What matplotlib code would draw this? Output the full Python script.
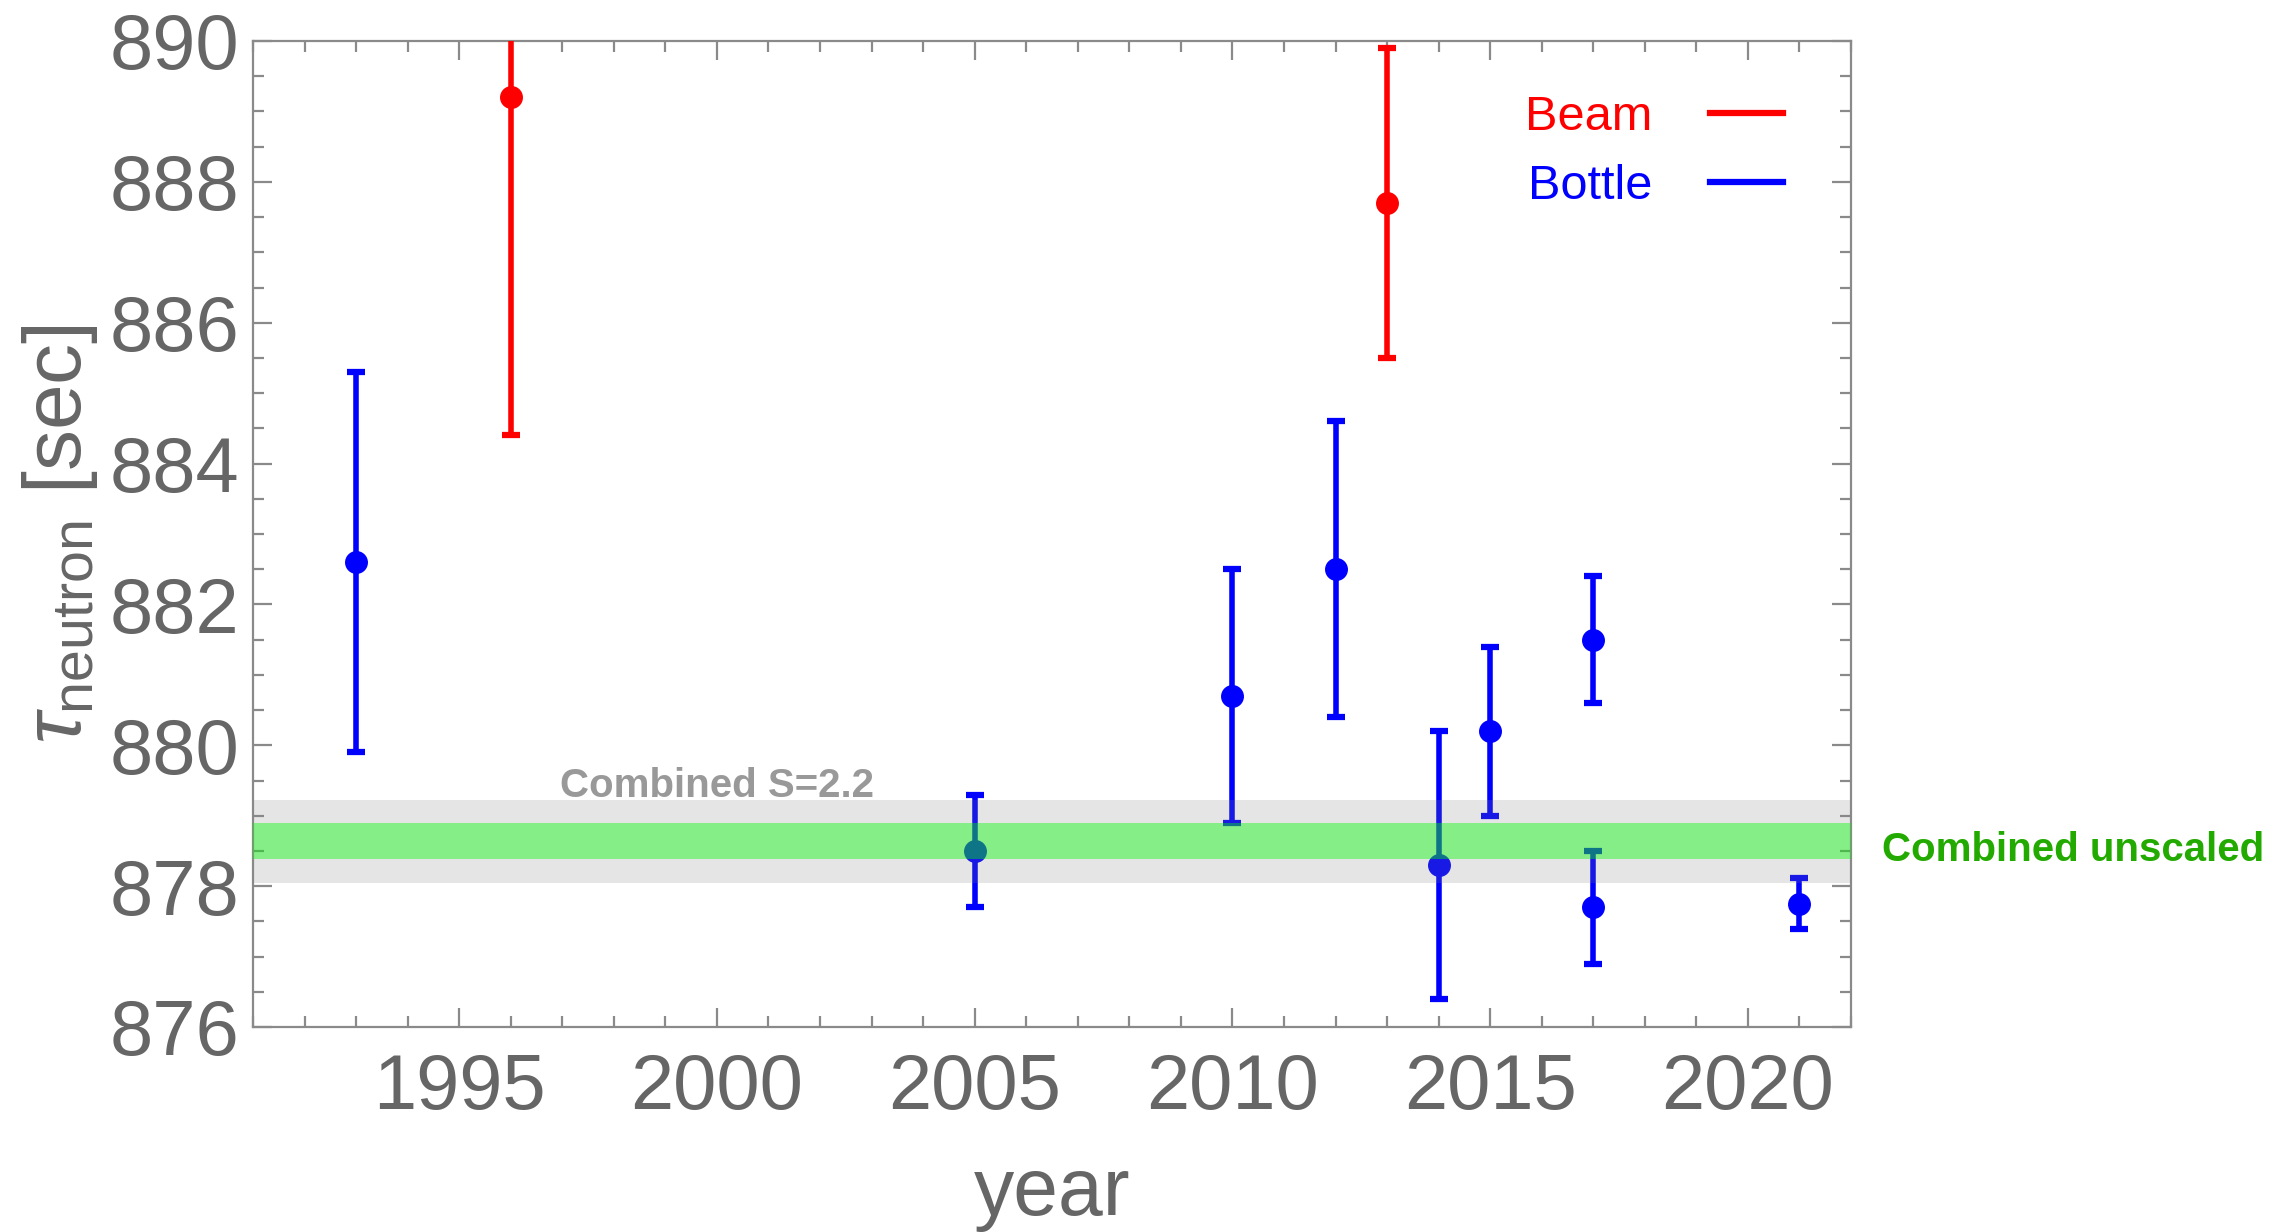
import matplotlib
matplotlib.use("Agg")
import matplotlib.pyplot as plt
from matplotlib.ticker import MultipleLocator

plt.rcParams['font.family'] = ['Liberation Sans', 'DejaVu Sans']
plt.rcParams['mathtext.fontset'] = 'custom'
plt.rcParams['mathtext.rm'] = 'Liberation Sans'
plt.rcParams['mathtext.it'] = 'Liberation Sans:italic'

# ---- data ----
beam_year = [1996, 2013]
beam_tau = [889.2, 887.7]
beam_err = [4.8, 2.2]

bottle_year = [1993, 2005, 2010, 2012, 2014, 2015, 2017, 2017, 2021]
bottle_tau = [882.6, 878.5, 880.7, 882.5, 878.3, 880.2, 881.5, 877.7, 877.75]
bottle_err = [2.7, 0.8, 1.8, 2.1, 1.9, 1.2, 0.9, 0.8, 0.36]

combined_scaled = (878.05, 879.23)
combined_unscaled = (878.38, 878.90)

series_labels = ["Beam", "Bottle"]
band_labels = ["Combined S=2.2", "Combined unscaled"]
xticks = [1995, 2000, 2005, 2010, 2015, 2020]
yticks = [876, 878, 880, 882, 884, 886, 888, 890]

# ---- figure ----
W, H = 2291, 1232
fig = plt.figure(figsize=(W / 100, H / 100), dpi=100)
ax = fig.add_axes([253 / W, 1 - 1027 / H, (1851 - 253) / W, (1027 - 41) / H])

gray_txt = '#666666'
spine_c = '#8a8a8a'

ekw = dict(fmt='o', markersize=15.5, elinewidth=4.0, capsize=6.3, capthick=4.5, zorder=3)
ax.errorbar(beam_year, beam_tau, yerr=beam_err, color='#ff0000', **ekw)
ax.errorbar(bottle_year, bottle_tau, yerr=bottle_err, color='#0000ff', **ekw)

ax.axhspan(*combined_scaled, color='#808080', alpha=0.2, lw=0, zorder=4)
ax.axhspan(*combined_unscaled, color='#00fb00', alpha=0.41, lw=0, zorder=5)

ax.text(2000, combined_scaled[1] + 0.03, band_labels[0], ha='center', va='baseline',
        fontsize=29, fontweight='bold', color='#999999')
ax.text(2026.3, 878.36, band_labels[1], ha='center', va='baseline', fontsize=29,
        fontweight='bold', color='#22aa00', clip_on=False)

# legend
h1, = ax.plot([], [], color='#ff0000', lw=4.5)
h2, = ax.plot([], [], color='#0000ff', lw=4.5)
leg = ax.legend([h1, h2], series_labels, loc='upper right', bbox_to_anchor=(0.985, 0.99),
                frameon=False, markerfirst=False, fontsize=35, handlelength=1.5,
                handletextpad=1.2, labelspacing=0.5)
for t, c in zip(leg.get_texts(), ['#ff0000', '#0000ff']):
    t.set_color(c)

ax.set_xlim(1991, 2022)
ax.set_ylim(876, 890)
ax.set_xticks(xticks)
ax.set_yticks(yticks)
ax.xaxis.set_minor_locator(MultipleLocator(1))
ax.yaxis.set_minor_locator(MultipleLocator(0.5))
ax.tick_params(which='both', direction='in', top=True, right=True, color=spine_c, width=1.6)
ax.tick_params(which='major', length=14)
ax.tick_params(which='minor', length=8)
ax.tick_params(axis='x', which='major', labelsize=56, labelcolor=gray_txt, pad=18)
ax.tick_params(axis='y', which='major', labelsize=56, labelcolor=gray_txt, pad=10)
for s in ax.spines.values():
    s.set_color(spine_c)
    s.set_linewidth(1.6)

ax.set_xlabel('year', fontsize=58, color=gray_txt)
ax.xaxis.set_label_coords(0.5, -0.131)
ax.set_ylabel(r'$\tau_{\mathrm{neutron}}$ [sec]', fontsize=59, color=gray_txt)
ax.yaxis.set_label_coords(-0.096, 0.5)

fig.savefig('out.png', dpi=100)
